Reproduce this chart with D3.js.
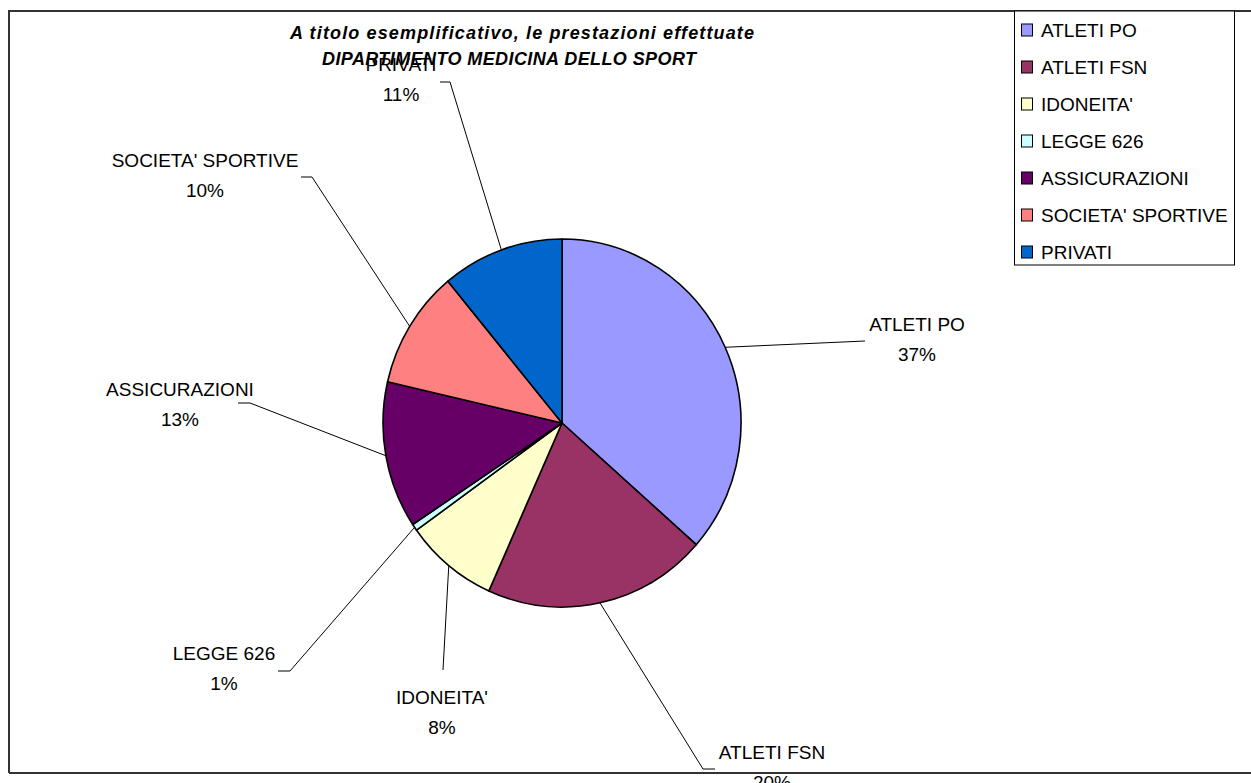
<!DOCTYPE html>
<html>
<head>
<meta charset="utf-8">
<script src="https://cdn.jsdelivr.net/npm/d3@7"></script>
<style>
  html, body { margin: 0; padding: 0; background: #fff; }
  svg { display: block; }
  text { font-family: "Liberation Sans", Arial, sans-serif; fill: #000; }
</style>
</head>
<body>
<svg id="chart" width="1251" height="783"></svg>
<script>
// Categories and their counts (share of services by payer)
const categories = ["ATLETI PO", "ATLETI FSN", "IDONEITA'", "LEGGE 626", "ASSICURAZIONI", "SOCIETA' SPORTIVE", "PRIVATI"];
const values = [365, 202, 84, 6, 129, 104, 110];
const colors = ["#9999FF", "#993366", "#FFFFCC", "#CCFFFF", "#660066", "#FF8080", "#0066CC"];
const titleLines = ["A titolo esemplificativo, le prestazioni  effettuate", "DIPARTIMENTO MEDICINA DELLO SPORT"];

// Label placement: text anchor (centre x, baseline of name) and leader elbow/end points
const labelAt = [[917, 331], [772, 759], [442, 704], [224, 660], [180, 396], [205, 167], [401, 71]];
const leaderElbow = [[865, 341], [703, 769], [443, 670], [290, 671], [250, 403], [312, 177], [450, 82]];
const leaderEnd = [[865, 341], [715, 769], [443, 670], [278, 671], [238, 403], [301, 177], [440, 82]];

const svg = d3.select("#chart");
const W = 1251, H = 783;

// Chart area frame (runs off the right edge)
svg.append("path")
  .attr("d", `M9,773 L9,11 L${W + 5},11 M9,773 L${W + 5},773`)
  .attr("fill", "none").attr("stroke", "#333").attr("stroke-width", 2);

// Pie
const cx = 562, cy = 423, rx = 179, ry = 184;
const k = ry / rx;
const total = d3.sum(values);
const pie = d3.pie().sort(null).value(d => d.value);
const data = categories.map((c, i) => ({ name: c, value: values[i], color: colors[i], i }));
const arcs = pie(data);
const arc = d3.arc().innerRadius(0).outerRadius(rx);

const g = svg.append("g").attr("transform", `translate(${cx},${cy}) scale(1,${k})`);
g.selectAll("path.slice").data(arcs).join("path")
  .attr("class", "slice")
  .attr("d", arc)
  .attr("fill", d => d.data.color)
  .attr("stroke", "#000")
  .attr("stroke-width", 1.6)
  .attr("stroke-linejoin", "round")
  .attr("vector-effect", "non-scaling-stroke");

// Leader lines from the slice rim to each label
const edgePoint = d => {
  const a = (d.startAngle + d.endAngle) / 2;
  return [cx + rx * Math.sin(a), cy - ry * Math.cos(a)];
};
svg.append("g").selectAll("polyline").data(arcs).join("polyline")
  .attr("points", d => [edgePoint(d), leaderElbow[d.data.i], leaderEnd[d.data.i]].map(p => p.join(",")).join(" "))
  .attr("fill", "none").attr("stroke", "#000").attr("stroke-width", 1);

// Data labels
const pct = v => Math.round(v / total * 100) + "%";
const lbl = svg.append("g").selectAll("g").data(arcs).join("g")
  .attr("transform", d => `translate(${labelAt[d.data.i][0]},${labelAt[d.data.i][1]})`);
lbl.append("text").attr("text-anchor", "middle").attr("font-size", 19)
  .text(d => d.data.name);
lbl.append("text").attr("text-anchor", "middle").attr("font-size", 19).attr("y", 30)
  .text(d => pct(d.value));

// Title
svg.append("text").attr("x", 522).attr("y", 39).attr("text-anchor", "middle")
  .attr("font-size", 18).attr("font-weight", "bold").attr("font-style", "italic")
  .attr("textLength", 464).attr("lengthAdjust", "spacing")
  .text(titleLines[0]);
svg.append("text").attr("x", 509).attr("y", 65).attr("text-anchor", "middle")
  .attr("font-size", 18).attr("font-weight", "bold").attr("font-style", "italic")
  .attr("textLength", 374).attr("lengthAdjust", "spacing")
  .text(titleLines[1]);

// Legend
const lg = svg.append("g");
lg.append("rect").attr("x", 1014.5).attr("y", 11).attr("width", 220).attr("height", 254)
  .attr("fill", "#fff").attr("stroke", "#000").attr("stroke-width", 1);
const rowY = d3.scalePoint().domain(categories).range([30, 252]);
const rows = lg.selectAll("g.row").data(data).join("g").attr("class", "row")
  .attr("transform", d => `translate(1021,${rowY(d.name)})`);
rows.append("rect").attr("x", 0.5).attr("y", -6).attr("width", 11).attr("height", 12)
  .attr("fill", d => d.color).attr("stroke", "#000").attr("stroke-width", 1);
rows.append("text").attr("x", 20).attr("y", 7).attr("font-size", 19)
  .text(d => d.name);
</script>
</body>
</html>
